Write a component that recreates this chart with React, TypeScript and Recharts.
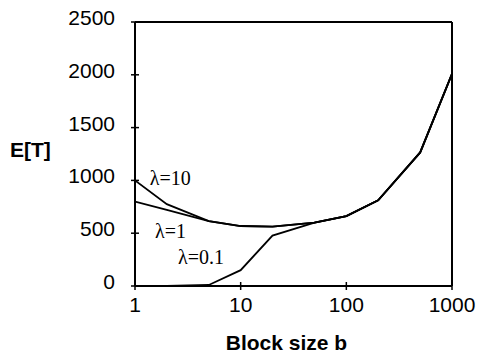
import { LineChart, Line, XAxis, YAxis, ReferenceLine, ReferenceDot } from "recharts";

// block sizes (log axis) and expected time E[T] per arrival rate
const blockSizes = [1, 2, 5, 10, 20, 50, 100, 200, 500, 1000];
const lambda10 = [1000, 775, 615, 568, 562, 600, 662, 812, 1265, 2010];
const lambda1 = [800, 720, 615, 568, 562, 600, 662, 812, 1265, 2010];
const lambda01 = [0, 0, 10, 150, 478, 600, 662, 812, 1265, 2010];

const xTicks = [1, 10, 100, 1000];
const yTicks = [0, 500, 1000, 1500, 2000, 2500];

// curve annotations: text, anchor in data space (left edge, vertical middle)
const notes = [
  { text: "λ=10", b: 1.38, v: 1010 },
  { text: "λ=1", b: 1.55, v: 515 },
  { text: "λ=0.1", b: 2.55, v: 265 },
];

const data = blockSizes.map((b, i) => ({
  b,
  l10: lambda10[i],
  l1: lambda1[i],
  l01: lambda01[i],
}));

const SANS = "'Liberation Sans', Arial, sans-serif";
const SERIF = "'Liberation Serif', 'Times New Roman', serif";

function YTick({ x, y, payload }: any) {
  return (
    <g>
      <line x1={x - 4} x2={x + 4} y1={y} y2={y} stroke="#000" strokeWidth={1.5} />
      <text x={x - 20} y={y + 3} textAnchor="end" fontFamily={SANS} fontSize={21} fill="#000">
        {payload.value}
      </text>
    </g>
  );
}

function XTick({ x, y, payload }: any) {
  return (
    <g>
      <line x1={x} x2={x} y1={y - 4} y2={y + 4} stroke="#000" strokeWidth={1.5} />
      <text x={x} y={y + 26} textAnchor="middle" fontFamily={SANS} fontSize={21} fill="#000">
        {payload.value}
      </text>
    </g>
  );
}

export default function App() {
  return (
    <div style={{ position: "absolute", left: 0, top: 0, background: "#fff" }}>
      <LineChart width={477} height={355} data={data} margin={{ top: 22, right: 25, bottom: 0, left: 0 }}>
        <XAxis
          dataKey="b"
          type="number"
          scale="log"
          domain={[1, 1000]}
          ticks={xTicks}
          allowDataOverflow
          height={69}
          tickSize={0}
          tickMargin={0}
          tick={<XTick />}
          axisLine={{ stroke: "#000", strokeWidth: 2 }}
          tickLine={false}
          label={{
            content: ({ viewBox }: any) => (
              <text
                x={viewBox.x + viewBox.width / 2 - 7}
                y={350}
                textAnchor="middle"
                fontFamily={SANS}
                fontWeight="bold"
                fontSize={21}
                fill="#000"
              >
                Block size b
              </text>
            ),
          }}
        />
        <YAxis
          type="number"
          domain={[0, 2500]}
          ticks={yTicks}
          width={135}
          tickSize={0}
          tickMargin={0}
          tick={<YTick />}
          axisLine={{ stroke: "#000", strokeWidth: 2 }}
          tickLine={false}
          label={{
            content: () => (
              <text x={10} y={157} fontFamily={SANS} fontWeight="bold" fontSize={21} fill="#000">
                E[T]
              </text>
            ),
          }}
        />
        <ReferenceLine y={2500} stroke="#000" strokeWidth={2} />
        <ReferenceLine x={1000} stroke="#000" strokeWidth={2} />
        <Line type="linear" dataKey="l10" stroke="#000" strokeWidth={1.8} dot={false} isAnimationActive={false} />
        <Line type="linear" dataKey="l1" stroke="#000" strokeWidth={1.8} dot={false} isAnimationActive={false} />
        <Line type="linear" dataKey="l01" stroke="#000" strokeWidth={1.8} dot={false} isAnimationActive={false} />
        {notes.map((n) => (
          <ReferenceDot
            key={n.text}
            x={n.b}
            y={n.v}
            r={0}
            shape={(p: any) => (
              <text x={p.cx} y={p.cy + 6} fontFamily={SERIF} fontSize={20} fill="#000">
                {n.text}
              </text>
            )}
          />
        ))}
      </LineChart>
    </div>
  );
}
